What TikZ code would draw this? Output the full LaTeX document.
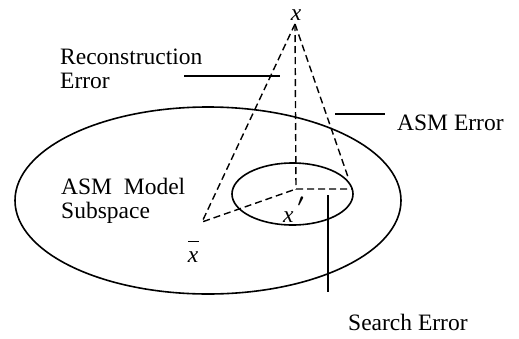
\documentclass[tikz,border=0pt]{standalone}
\usepackage{fontspec}
\setmainfont{Liberation Serif}
\usetikzlibrary{positioning}

\begin{document}
\begin{tikzpicture}[x=1pt,y=-1pt,
    every node/.style={inner sep=0pt,font=\fontsize{23.5}{24}\selectfont},
    proj/.style={line width=1.4pt,dash pattern=on 7pt off 4pt},
    pointer/.style={line width=1.4pt}]
  \useasboundingbox (0,0) rectangle (519,338);
  % Define points
  \coordinate (top) at (295,24);
  \coordinate (foot) at (296,189);
  \coordinate (mean) at (202,222);
  \coordinate (fit) at (348,177);
  \coordinate (edge) at (352,189);
  % Subspaces
  \draw[line width=1.6pt] (208,200.5) ellipse [x radius=193pt, y radius=93.5pt];
  \draw[line width=1.6pt] (292.5,194) ellipse [x radius=60.5pt, y radius=31pt];
  % Projections
  \draw[proj] (top) -- (foot) -- (edge);
  \draw[proj] (top) -- (mean) -- (foot);
  \draw[proj] (top) -- (fit);
  % Points
  \node[anchor=base] (x) at (296,20) {\textit{x}};
  \node[anchor=base] (xbar) at (193,262)
    {\rlap{\hspace{0.5pt}\raisebox{20pt}{\rule{11pt}{1.3pt}}}\textit{x}};
  \node[anchor=base west] (xfit) at (283,222)
    {\textit{x}\hspace{4pt}\raisebox{6pt}{\boldmath$'$}};
  % Labels
  \node[anchor=base west,align=left] (rec) at (60,88) {Reconstruction\\Error};
  \node[anchor=base west] (asm) at (397,130) {ASM Error};
  \node[anchor=base west,align=left] (model) at (61,218) {ASM\ \ Model\\Subspace};
  \node[anchor=base west] (search) at (348,330) {Search Error};
  % Pointers
  \coordinate (rec a) at (184,76);
  \coordinate (rec b) at (280,76);
  \coordinate (asm a) at (335,114);
  \coordinate (search a) at (328,195);
  \coordinate (search b) at (328,292);
  \draw[pointer] (rec a) -- (rec b);
  \draw[pointer] (asm a) -- ([xshift=-12pt]asm a -| asm.west);
  \draw[pointer] (search a) -- (search b);
\end{tikzpicture}
\end{document}
